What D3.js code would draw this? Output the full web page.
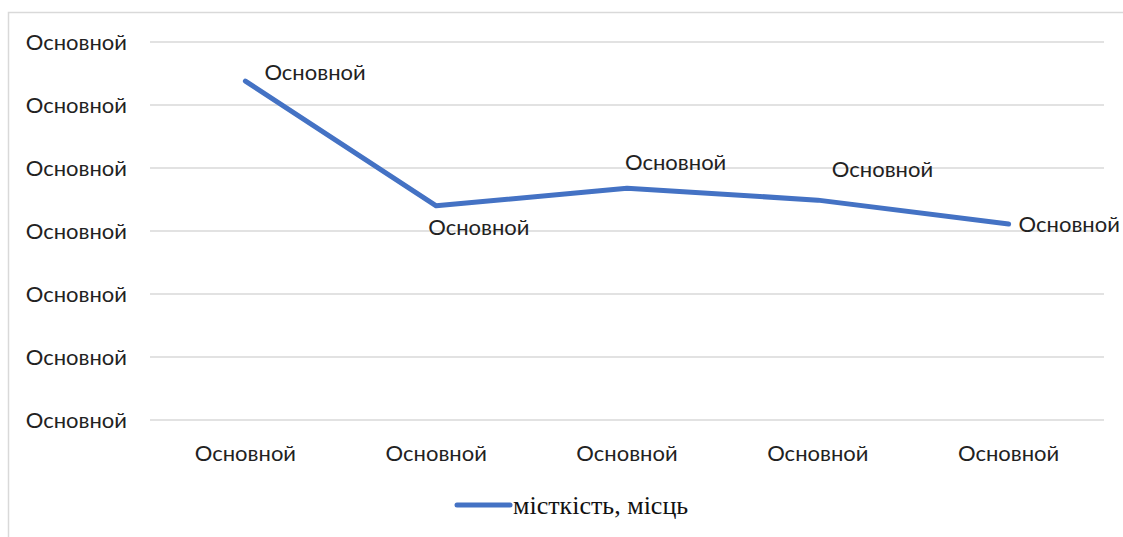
<!DOCTYPE html>
<html>
<head>
<meta charset="utf-8">
<script src="https://cdn.jsdelivr.net/npm/d3@7"></script>
<style>
  body { margin: 0; background: #fff; }
  svg { display: block; }
</style>
</head>
<body>
<svg width="1123" height="537"></svg>
<script>
const categories = ['Основной', 'Основной', 'Основной', 'Основной', 'Основной'];
const values = [5.38, 3.40, 3.68, 3.49, 3.11];
const pointLabels = ['Основной', 'Основной', 'Основной', 'Основной', 'Основной'];
const yTicks = [0, 1, 2, 3, 4, 5, 6];
const yTickLabel = 'Основной';
const seriesName = 'місткість, місць';

const svg = d3.select('svg');
const font = 'Lato, "Open Sans", sans-serif';
const fontSize = 22;

// chart border
svg.append('rect')
    .attr('x', 8.5).attr('y', 12.5)
    .attr('width', 1130).attr('height', 540)
    .attr('fill', 'none')
    .attr('stroke', '#d9d9d9')
    .attr('stroke-width', 1.5);

const plot = { left: 150, right: 1104, top: 42, bottom: 420 };

const yScale = d3.scaleLinear()
    .domain([0, 6])
    .range([plot.bottom, plot.top]);

const xScale = d3.scalePoint()
    .domain(d3.range(categories.length))
    .range([plot.left, plot.right])
    .padding(0.5);

// gridlines
svg.append('g')
    .selectAll('line')
    .data(yTicks)
    .join('line')
    .attr('x1', plot.left).attr('x2', plot.right)
    .attr('y1', d => yScale(d)).attr('y2', d => yScale(d))
    .attr('stroke', '#d9d9d9')
    .attr('stroke-width', 1.5);

// y labels
svg.append('g')
    .selectAll('text')
    .data(yTicks)
    .join('text')
    .attr('x', 127)
    .attr('y', d => yScale(d))
    .attr('dy', '0.35em')
    .attr('text-anchor', 'end')
    .attr('font-family', font)
    .attr('font-size', fontSize)
    .attr('fill', '#222')
    .text(yTickLabel);

// x labels
svg.append('g')
    .selectAll('text')
    .data(categories)
    .join('text')
    .attr('x', (d, i) => xScale(i))
    .attr('y', 453)
    .attr('dy', '0.35em')
    .attr('text-anchor', 'middle')
    .attr('font-family', font)
    .attr('font-size', fontSize)
    .attr('fill', '#222')
    .text(d => d);

// the line
const line = d3.line()
    .x((d, i) => xScale(i))
    .y(d => yScale(d));

svg.append('path')
    .datum(values)
    .attr('d', line)
    .attr('fill', 'none')
    .attr('stroke', '#4472c4')
    .attr('stroke-width', 5)
    .attr('stroke-linecap', 'round')
    .attr('stroke-linejoin', 'round');

// data labels (excel "best fit" placement)
const labelPlace = [
    { dx: 19, dy: -9 },
    { dx: -8, dy: 21 },
    { dx: -2, dy: -26 },
    { dx: 14, dy: -31 },
    { dx: 10, dy: 0 }
];

svg.append('g')
    .selectAll('text')
    .data(values)
    .join('text')
    .attr('x', (d, i) => xScale(i) + labelPlace[i].dx)
    .attr('y', (d, i) => yScale(d) + labelPlace[i].dy)
    .attr('dy', '0.35em')
    .attr('text-anchor', 'start')
    .attr('font-family', font)
    .attr('font-size', fontSize)
    .attr('fill', '#222')
    .text((d, i) => pointLabels[i]);

// legend
const legend = svg.append('g').attr('transform', 'translate(457, 505)');
legend.append('line')
    .attr('x1', 0).attr('x2', 53)
    .attr('stroke', '#4472c4')
    .attr('stroke-width', 5)
    .attr('stroke-linecap', 'round');
legend.append('text')
    .attr('x', 56)
    .attr('dy', '0.35em')
    .attr('font-family', '"Liberation Serif", "Times New Roman", serif')
    .attr('font-size', 26)
    .attr('fill', '#111')
    .text(seriesName);
</script>
</body>
</html>
